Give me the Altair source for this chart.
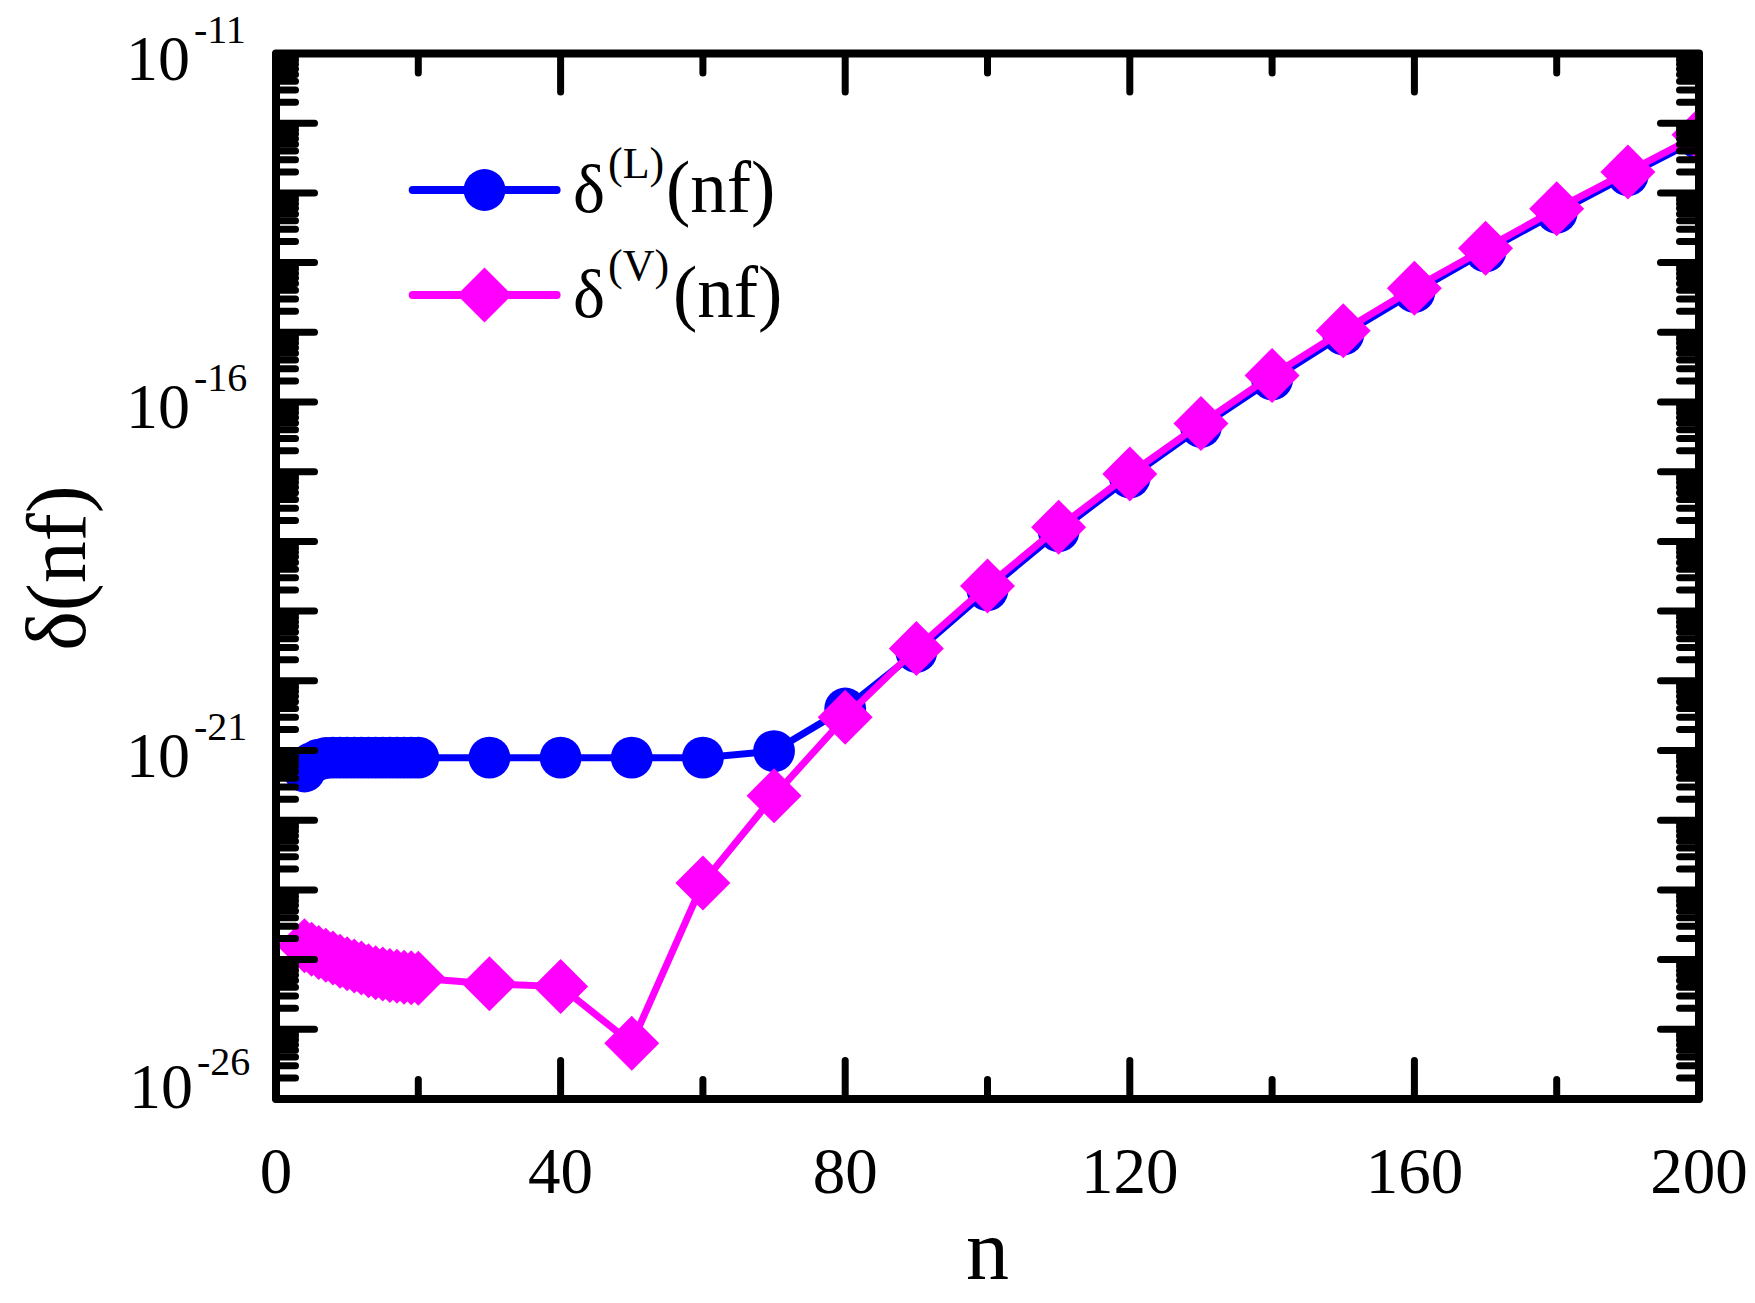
import altair as alt
import pandas as pd

# ---------------- data ----------------
n_vals = list(range(4, 21)) + list(range(30, 201, 10))

delta_L = [5.0e-22, 6.6e-22, 7.4e-22, 7.8e-22,
           7.9e-22, 7.9e-22, 7.9e-22, 7.9e-22, 7.9e-22, 7.9e-22, 7.9e-22,
           7.9e-22, 7.9e-22, 7.9e-22, 7.9e-22, 7.9e-22, 7.9e-22,
           7.9e-22, 7.9e-22, 7.9e-22, 7.9e-22, 9.8e-22, 4.0e-21,
           2.6e-20, 2.0e-19, 1.4e-18, 8.3e-18, 4.4e-17, 2.1e-16,
           9.3e-16, 3.8e-15, 1.45e-14, 5.2e-14, 1.8e-13, 6.0e-13]

delta_V = [1.58e-24, 1.41e-24, 1.26e-24, 1.15e-24, 1.05e-24, 9.5e-25,
           8.7e-25, 8.1e-25, 7.6e-25, 6.9e-25, 6.5e-25, 6.2e-25, 5.9e-25,
           5.75e-25, 5.6e-25, 5.5e-25, 5.4e-25,
           4.5e-25, 4.1e-25, 6.3e-26, 1.26e-23, 2.24e-22, 3.0e-21,
           2.9e-20, 2.3e-19, 1.6e-18, 9.3e-18, 4.9e-17, 2.4e-16,
           1.05e-15, 4.3e-15, 1.6e-14, 5.9e-14, 2.0e-13, 6.8e-13]

x_major = [0, 40, 80, 120, 160, 200]
x_minor = [20, 60, 100, 140, 180]
x_labels = ["0", "40", "80", "120", "160", "200"]

y_exps = list(range(-26, -10))
y_major = [10.0 ** e for e in y_exps]
y_minor = [k * 10.0 ** e for e in range(-26, -11) for k in range(2, 10)]
y_label_vals = [1e-11, 1e-16, 1e-21, 1e-26]
y_label_sups = ["-11", "-16", "-21", "-26"]

legend_sups = ["(L)", "(V)"]

# ---------------- layout / style ----------------
W, H = 1423, 1045.5
FONT = "Liberation Serif"
BLUE = "#0000FF"
MAG = "#FF00FF"
TW = 7          # tick width
MAJ, MIN = 38.5, 19.5

xs = alt.Scale(domain=[0, 200], nice=False, zero=False)
ys = alt.Scale(type="log", domain=[1e-26, 1e-11], nice=False)

dfL = pd.DataFrame({"n": n_vals, "d": delta_L})
dfV = pd.DataFrame({"n": n_vals, "d": delta_V})

X = alt.X("n:Q", scale=xs, axis=None)
Y = alt.Y("d:Q", scale=ys, axis=None)

lineL = alt.Chart(dfL).mark_line(color=BLUE, strokeWidth=7, clip=True).encode(x=X, y=Y)
ptsL = alt.Chart(dfL).mark_point(shape="circle", filled=True, size=1750, color=BLUE,
                                 opacity=1, clip=True).encode(x=X, y=Y)
lineV = alt.Chart(dfV).mark_line(color=MAG, strokeWidth=7, clip=True).encode(x=X, y=Y)
ptsV = alt.Chart(dfV).mark_point(shape="diamond", filled=True, size=3025, color=MAG,
                                 opacity=1, clip=True).encode(x=X, y=Y)

# ---------------- ticks (inward, all four sides) ----------------
def xticks(vals, length):
    d = pd.DataFrame({"t": vals})
    xe = alt.X("t:Q", scale=xs, axis=None)
    base = alt.Chart(d).mark_rule(color="black", strokeWidth=TW, strokeCap="round")
    bottom = base.encode(x=xe, y=alt.value(H), y2=alt.value(H - length))
    top = base.encode(x=xe, y=alt.value(0), y2=alt.value(length))
    return [bottom, top]

def yticks(vals, length):
    d = pd.DataFrame({"t": vals})
    ye = alt.Y("t:Q", scale=ys, axis=None)
    base = alt.Chart(d).mark_rule(color="black", strokeWidth=TW, strokeCap="round")
    left = base.encode(y=ye, x=alt.value(0), x2=alt.value(length))
    right = base.encode(y=ye, x=alt.value(W), x2=alt.value(W - length))
    return [left, right]

ticks = xticks(x_major, MAJ) + xticks(x_minor, MIN) + yticks(y_major, MAJ) + yticks(y_minor, MIN)

frame = alt.Chart(pd.DataFrame({"a": [0]})).mark_rect(
    filled=False, stroke="black", strokeWidth=8, strokeJoin="round"
).encode(x=alt.value(0), x2=alt.value(W), y=alt.value(0), y2=alt.value(H))

# ---------------- tick labels ----------------
xlab = alt.Chart(pd.DataFrame({"t": x_major, "lab": x_labels})).mark_text(
    font=FONT, fontSize=65, align="center", baseline="alphabetic", color="black"
).encode(x=alt.X("t:Q", scale=xs, axis=None), y=alt.value(H + 94), text="lab:N")

ydf = pd.DataFrame({"v": y_label_vals, "base": ["10"] * 4, "sup": y_label_sups})
yb = alt.Chart(ydf)
ye = alt.Y("v:Q", scale=ys, axis=None)
ylab_base = yb.transform_filter("datum.v > 1e-25").mark_text(
    font=FONT, fontSize=64, align="right", baseline="alphabetic", dy=26, color="black"
).encode(x=alt.value(-86), y=ye, text="base:N")
ylab_sup = yb.transform_filter("datum.v > 1e-25").mark_text(
    font=FONT, fontSize=40, align="left", baseline="alphabetic", dy=-11, color="black"
).encode(x=alt.value(-82), y=ye, text="sup:N")
ylab_base2 = yb.transform_filter("datum.v < 1e-25").mark_text(
    font=FONT, fontSize=64, align="right", baseline="alphabetic", dy=9, color="black"
).encode(x=alt.value(-83), y=ye, text="base:N")
ylab_sup2 = yb.transform_filter("datum.v < 1e-25").mark_text(
    font=FONT, fontSize=40, align="left", baseline="alphabetic", dy=-24, color="black"
).encode(x=alt.value(-79), y=ye, text="sup:N")

# ---------------- axis titles ----------------
xtitle = alt.Chart(pd.DataFrame({"s": ["n"]})).mark_text(
    font=FONT, fontSize=86, align="center", baseline="alphabetic", color="black"
).encode(x=alt.value(W / 2), y=alt.value(H + 180), text="s:N")

ytitle = alt.Chart(pd.DataFrame({"s": ["δ(nf)"]})).mark_text(
    font=FONT, fontSize=84, align="center", baseline="alphabetic", angle=270, color="black"
).encode(x=alt.value(-191), y=alt.value(514.5), text="s:N")

# ---------------- legend ----------------
def legend_row(color, shape, size, sup, y_line, y_base, y_sup, x_nf):
    d = pd.DataFrame({"d": ["δ"], "sup": [sup], "nf": ["(nf)"]})
    c = alt.Chart(d)
    rule = c.mark_rule(color=color, strokeWidth=8, strokeCap="round").encode(
        x=alt.value(136.7), x2=alt.value(280.6), y=alt.value(y_line))
    sym = c.mark_point(shape=shape, filled=True, size=size, color=color, opacity=1).encode(
        x=alt.value(208.5), y=alt.value(y_line))
    t1 = c.mark_text(font=FONT, fontSize=68, align="left", baseline="alphabetic", color="black").encode(
        x=alt.value(297), y=alt.value(y_base), text="d:N")
    t2 = c.mark_text(font=FONT, fontSize=44, align="left", baseline="alphabetic", color="black").encode(
        x=alt.value(332), y=alt.value(y_sup), text="sup:N")
    t3 = c.mark_text(font=FONT, fontSize=73, align="left", baseline="alphabetic", color="black").encode(
        x=alt.value(x_nf), y=alt.value(y_base), text="nf:N")
    return [rule, sym, t1, t2, t3]

legend = (legend_row(BLUE, "circle", 1750, legend_sups[0], 136.5, 158.5, 124.5, 390)
          + legend_row(MAG, "diamond", 3025, legend_sups[1], 241.5, 263.2, 226.5, 397))

chart = alt.layer(
    lineL, ptsL, lineV, ptsV, *ticks, frame,
    xlab, ylab_base, ylab_sup, ylab_base2, ylab_sup2, xtitle, ytitle, *legend
).properties(
    width=W, height=H,
    padding={"left": 276, "top": 53.5, "right": 56, "bottom": 204},
    autosize=alt.AutoSizeParams(type="none"),
).configure_view(strokeWidth=0).configure(background="white")

chart.save("out.html", embed_options={"renderer": "svg", "actions": False})
